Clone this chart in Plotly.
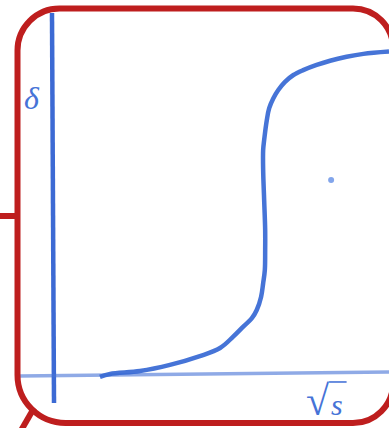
import plotly.graph_objects as go

# Sketch of an S-shaped rise of delta against sqrt(s)
curve_x = [1.41, 1.71, 2.60, 3.49, 4.38, 4.98, 5.37, 5.67, 5.92, 6.07, 6.20,
           6.26, 6.31, 6.32, 6.32, 6.29, 6.26, 6.26, 6.29, 6.37, 6.44, 6.56,
           6.71, 6.91, 7.16, 7.45, 7.85, 8.25, 8.74, 9.24, 10.0]
curve_y = [-0.06, 0.03, 0.12, 0.31, 0.58, 0.83, 1.18, 1.49, 1.74, 2.00, 2.41,
           2.82, 3.23, 3.85, 4.46, 5.38, 6.31, 6.92, 7.23, 7.85, 8.21, 8.51,
           8.77, 9.02, 9.23, 9.38, 9.54, 9.67, 9.79, 9.88, 9.95]

# hand-drawn axes (slightly tilted strokes)
vaxis_x = [-0.015, 0.045]
vaxis_y = [11.14, -0.86]
haxis_x = [-0.97, 10.0]
haxis_y = [-0.03, 0.09]

# isolated point
dot_x = [8.28]
dot_y = [6.0]

W, H = 389, 428
BLUE = "rgb(55,105,212)"
TEXT_BLUE = "rgb(70,115,215)"
RED = "rgb(190,30,30)"
SERIF = "Liberation Serif"

fig = go.Figure()
fig.add_trace(go.Scatter(x=vaxis_x, y=vaxis_y, mode="lines",
                         line=dict(color="rgb(40,90,208)", width=4.5), opacity=0.9))
fig.add_trace(go.Scatter(x=haxis_x, y=haxis_y, mode="lines",
                         line=dict(color="rgb(70,115,215)", width=3.5), opacity=0.6))
fig.add_trace(go.Scatter(x=curve_x, y=curve_y, mode="lines",
                         line=dict(color=BLUE, width=4.5, shape="spline", smoothing=1.0),
                         opacity=0.92))
fig.add_trace(go.Scatter(x=dot_x, y=dot_y, mode="markers",
                         marker=dict(color="rgb(130,165,235)", size=6)))


def px(x, y):
    return x / W, 1 - y / H


def frame_path(left, top, right, bottom, r_tl, r_tr, r_br, r_bl):
    k = 0.448  # cubic approximation of a quarter circle
    pts = []

    def p(x, y):
        a, b = px(x, y)
        return f"{a:.5f},{b:.5f}"

    pts.append(f"M {p(left, top + r_tl)}")
    pts.append(f"C {p(left, top + r_tl * k)} {p(left + r_tl * k, top)} {p(left + r_tl, top)}")
    pts.append(f"L {p(right - r_tr, top)}")
    pts.append(f"C {p(right - r_tr * k, top)} {p(right, top + r_tr * k)} {p(right, top + r_tr)}")
    pts.append(f"L {p(right, bottom - r_br)}")
    pts.append(f"C {p(right, bottom - r_br * k)} {p(right - r_br * k, bottom)} {p(right - r_br, bottom)}")
    pts.append(f"L {p(left + r_bl, bottom)}")
    pts.append(f"C {p(left + r_bl * k, bottom)} {p(left, bottom - r_bl * k)} {p(left, bottom - r_bl)}")
    pts.append("Z")
    return " ".join(pts)


shapes = [
    dict(type="path", xref="paper", yref="paper",
         path=frame_path(17.5, 8.5, 393, 423, 42, 40, 40, 48),
         line=dict(color=RED, width=6)),
]
x0, y0 = px(0, 216)
x1, y1 = px(17.5, 216)
shapes.append(dict(type="line", xref="paper", yref="paper", x0=x0, y0=y0, x1=x1, y1=y1,
                   line=dict(color=RED, width=6)))
x0, y0 = px(34, 408)
x1, y1 = px(19, 434)
shapes.append(dict(type="line", xref="paper", yref="paper", x0=x0, y0=y0, x1=x1, y1=y1,
                   line=dict(color=RED, width=6)))
# vinculum of the square root
shapes.append(dict(type="line", xref="x", yref="y", x0=8.22, y0=-0.215, x1=8.74, y1=-0.215,
                   line=dict(color=TEXT_BLUE, width=1.6)))

annotations = [
    dict(x=-0.61, y=8.52, xref="x", yref="y", text="<i>δ</i>", showarrow=False,
         font=dict(family=SERIF, size=32, color=TEXT_BLUE)),
    dict(x=7.89, y=-0.80, xref="x", yref="y", text="√", showarrow=False,
         font=dict(family=SERIF, size=42, color=TEXT_BLUE)),
    dict(x=8.45, y=-0.90, xref="x", yref="y", text="<i>s</i>", showarrow=False,
         font=dict(family=SERIF, size=30, color=TEXT_BLUE)),
]

fig.update_layout(
    width=W, height=H,
    margin=dict(l=0, r=0, t=0, b=0),
    paper_bgcolor="white", plot_bgcolor="white",
    showlegend=False, hovermode=False,
    xaxis=dict(range=[-1.56, 10.0], visible=False, fixedrange=True),
    yaxis=dict(range=[-1.631, 11.538], visible=False, fixedrange=True),
    shapes=shapes, annotations=annotations,
)

fig.write_html("out.html")
